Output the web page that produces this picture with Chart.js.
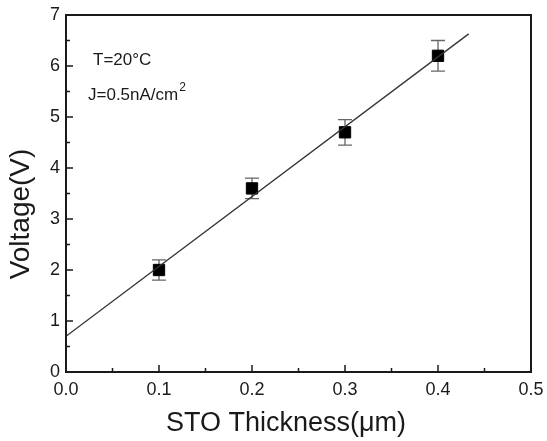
<!DOCTYPE html>
<html>
<head>
<meta charset="utf-8">
<script src="https://cdn.jsdelivr.net/npm/chart.js@4.4.1/dist/chart.umd.min.js"></script>
<style>
  html, body { margin: 0; padding: 0; background: #fff; }
  #wrap { width: 547px; height: 441px; }
</style>
</head>
<body>
<div id="wrap"><canvas id="chart" width="547" height="441"></canvas></div>
<script>
// data
const thickness = [0.1, 0.2, 0.3, 0.4];
const voltage = [2.0, 3.6, 4.7, 6.2];
const voltErr = [0.2, 0.2, 0.25, 0.3];
// linear fit drawn in the figure (end points)
const fitX = [0.0, 0.433];
const fitY = [0.7, 6.63];
const xTicks = [0.0, 0.1, 0.2, 0.3, 0.4, 0.5];
const yTicks = [0, 1, 2, 3, 4, 5, 6, 7];

const FONT = '"Liberation Sans", Arial, sans-serif';
const INK = '#1a1a1a';

// frame, inward ticks, error bars, annotations, axis titles
const decor = {
  id: 'decor',
  beforeDatasetsDraw(chart) {
    const { ctx, scales: { x, y } } = chart;
    ctx.save();
    // error bars
    ctx.strokeStyle = '#666';
    ctx.lineWidth = 1.3;
    thickness.forEach((t, i) => {
      const px = x.getPixelForValue(t);
      const top = y.getPixelForValue(voltage[i] + voltErr[i]);
      const bot = y.getPixelForValue(voltage[i] - voltErr[i]);
      ctx.beginPath();
      ctx.moveTo(px, top); ctx.lineTo(px, bot);
      ctx.moveTo(px - 7, top); ctx.lineTo(px + 7, top);
      ctx.moveTo(px - 7, bot); ctx.lineTo(px + 7, bot);
      ctx.stroke();
    });
    ctx.restore();
  },
  afterDraw(chart) {
    const { ctx, chartArea: a, scales: { x, y } } = chart;
    ctx.save();
    ctx.strokeStyle = INK;
    ctx.lineWidth = 2;
    ctx.strokeRect(a.left, a.top, a.right - a.left, a.bottom - a.top);
    ctx.lineWidth = 1.5;
    ctx.beginPath();
    for (let v = 0.05; v < 0.5; v += 0.05) {
      const px = x.getPixelForValue(v);
      const major = Math.abs(v * 10 - Math.round(v * 10)) < 1e-6;
      const len = major ? 7 : 4;
      ctx.moveTo(px, a.bottom); ctx.lineTo(px, a.bottom - len);
    }
    for (let v = 0.5; v < 7; v += 0.5) {
      const py = y.getPixelForValue(v);
      const len = Number.isInteger(v) ? 7 : 4;
      ctx.moveTo(a.left, py); ctx.lineTo(a.left + len, py);
    }
    ctx.stroke();

    // annotations
    ctx.fillStyle = INK;
    ctx.font = '17px ' + FONT;
    ctx.textBaseline = 'alphabetic';
    ctx.textAlign = 'left';
    ctx.fillText('T=20°C', 93, 65);
    ctx.fillText('J=0.5nA/cm', 88, 100);
    const w = ctx.measureText('J=0.5nA/cm').width;
    ctx.font = '12px ' + FONT;
    ctx.fillText('2', 88 + w + 1, 91);

    // axis titles
    ctx.font = '27px ' + FONT;
    ctx.textAlign = 'center';
    ctx.fillText('STO Thickness(μm)', 286, 431);
    ctx.translate(29, 214);
    ctx.rotate(-Math.PI / 2);
    ctx.font = '28px ' + FONT;
    ctx.fillText('Voltage(V)', 0, 0);
    ctx.restore();
  }
};

new Chart(document.getElementById('chart'), {
  type: 'scatter',
  data: {
    datasets: [
      {
        label: 'fit',
        type: 'line',
        data: fitX.map((v, i) => ({ x: v, y: fitY[i] })),
        borderColor: '#333',
        borderWidth: 1.3,
        pointRadius: 0,
        fill: false
      },
      {
        label: 'Voltage',
        data: thickness.map((v, i) => ({ x: v, y: voltage[i] })),
        pointStyle: 'rect',
        pointRadius: 8,
        backgroundColor: '#000',
        borderColor: '#000'
      }
    ]
  },
  options: {
    responsive: false,
    animation: false,
    layout: { padding: { top: 15, right: 16, left: 0, bottom: 0 } },
    plugins: { legend: { display: false }, tooltip: { enabled: false } },
    scales: {
      x: {
        type: 'linear',
        min: 0, max: 0.5,
        afterBuildTicks: s => { s.ticks = xTicks.map(v => ({ value: v })); },
        afterFit: s => { s.height = 69; s.paddingLeft = 0; s.paddingRight = 0; },
        grid: { display: false, drawTicks: false },
        border: { display: false },
        ticks: {
          color: INK,
          font: { family: FONT, size: 18 },
          padding: 7,
          callback: v => v.toFixed(1)
        }
      },
      y: {
        type: 'linear',
        min: 0, max: 7,
        afterBuildTicks: s => { s.ticks = yTicks.map(v => ({ value: v })); },
        afterFit: s => { s.width = 66; s.paddingTop = 0; s.paddingBottom = 0; },
        grid: { display: false, drawTicks: false },
        border: { display: false },
        ticks: {
          color: INK,
          font: { family: FONT, size: 18 },
          padding: 6
        }
      }
    }
  },
  plugins: [decor]
});
</script>
</body>
</html>
